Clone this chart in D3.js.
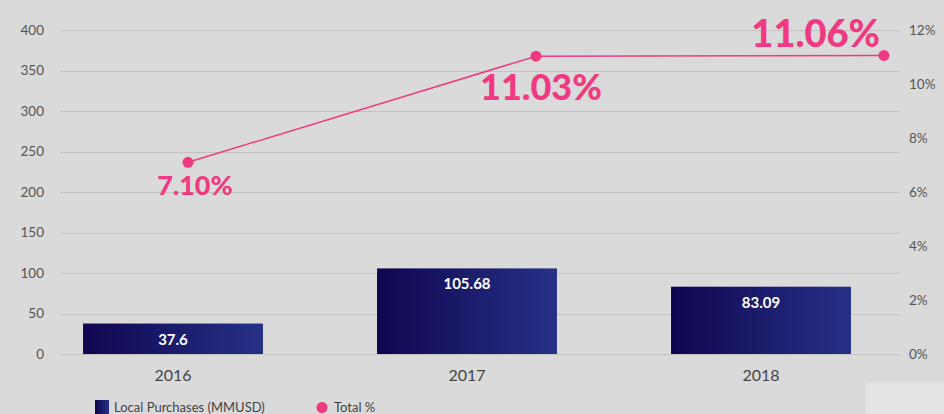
<!DOCTYPE html>
<html>
<head>
<meta charset="utf-8">
<script src="https://cdn.jsdelivr.net/npm/d3@7/dist/d3.min.js"></script>
<style>
  html, body { margin: 0; padding: 0; background: #dadada; }
  svg { display: block; }
</style>
</head>
<body>
<svg id="chart" width="944" height="414"></svg>
<script>
// Local purchases per year (MMUSD) and share of total purchases (%)
const years = ["2016", "2017", "2018"];
const purchases = [37.6, 105.68, 83.09];
const totalPct = [7.10, 11.03, 11.06];
const leftTicks = [0, 50, 100, 150, 200, 250, 300, 350, 400];
const rightTicks = [0, 2, 4, 6, 8, 10, 12];

const W = 944, H = 414;
const svg = d3.select("#chart");
const pink = "#ef3a82";

svg.append("rect").attr("width", W).attr("height", H).attr("fill", "#dadada");
svg.append("rect").attr("x", 866).attr("y", 382).attr("width", 78).attr("height", 32).attr("fill", "#e3e3e3");

const plot = { left: 60, right: 899, top: 30, bottom: 354 };

const x = d3.scaleBand().domain(years).range([26, 908]).paddingInner(0.388).paddingOuter(0.194);
const xLine = d3.scalePoint().domain(years).range([188, 884]);
const yL = d3.scaleLinear().domain([0, 400]).range([plot.bottom, plot.top]);
const yR = d3.scaleLinear().domain([0, 12]).range([plot.bottom, plot.top]);

// gridlines
svg.append("g").selectAll("line").data(leftTicks).join("line")
  .attr("x1", plot.left).attr("x2", plot.right)
  .attr("y1", d => Math.round(yL(d)) + 0.5).attr("y2", d => Math.round(yL(d)) + 0.5)
  .attr("stroke", "#c2c2c2").attr("stroke-width", 1);

// left axis
const axL = svg.append("g").attr("transform", `translate(${plot.left},0)`)
  .call(d3.axisLeft(yL).tickValues(leftTicks).tickSize(0).tickPadding(16));
axL.select(".domain").remove();
axL.selectAll("text").attr("font-family", "Lato, sans-serif").attr("font-size", 13.5).attr("fill", "#555");

// right axis
const axR = svg.append("g").attr("transform", `translate(${plot.right},0)`)
  .call(d3.axisRight(yR).tickValues(rightTicks).tickFormat(d => d + "%").tickSize(0).tickPadding(10));
axR.select(".domain").remove();
axR.selectAll("text").attr("font-family", "Lato, sans-serif").attr("font-size", 13.5).attr("fill", "#555");

// bar gradient
const defs = svg.append("defs");
const grad = defs.append("linearGradient").attr("id", "barGrad").attr("x1", "0%").attr("x2", "100%");
grad.append("stop").attr("offset", "0%").attr("stop-color", "#100650");
grad.append("stop").attr("offset", "100%").attr("stop-color", "#263186");

const data = years.map((yr, i) => ({ yr, v: purchases[i], p: totalPct[i] }));

svg.append("g").selectAll("rect").data(data).join("rect")
  .attr("x", d => x(d.yr)).attr("width", x.bandwidth())
  .attr("y", d => yL(d.v)).attr("height", d => yL(0) - yL(d.v))
  .attr("fill", "url(#barGrad)");

svg.append("g").selectAll("text").data(data).join("text")
  .attr("x", d => x(d.yr) + x.bandwidth() / 2)
  .attr("y", d => yL(d.v) + 21)
  .attr("text-anchor", "middle")
  .attr("font-family", "Lato, sans-serif").attr("font-weight", 700).attr("font-size", 15)
  .attr("fill", "#fff").text(d => d.v);

// year labels
svg.append("g").selectAll("text").data(data).join("text")
  .attr("x", d => x(d.yr) + x.bandwidth() / 2).attr("y", 381)
  .attr("text-anchor", "middle")
  .attr("font-family", "Lato, sans-serif").attr("font-size", 16).attr("fill", "#444")
  .text(d => d.yr);

// percentage line
const line = d3.line().x(d => xLine(d.yr)).y(d => yR(d.p));
svg.append("path").datum(data).attr("d", line)
  .attr("fill", "none").attr("stroke", pink).attr("stroke-width", 1.5);
svg.append("g").selectAll("circle").data(data).join("circle")
  .attr("cx", d => xLine(d.yr)).attr("cy", d => yR(d.p)).attr("r", 5.5).attr("fill", pink);

// percentage labels
const labelStyle = [
  { dx: 7, dy: 33, size: 27, anchor: "middle" },
  { dx: 5, dy: 44, size: 36, anchor: "middle" },
  { dx: -4, dy: -8, size: 38, anchor: "end" }
];
svg.append("g").selectAll("text").data(data).join("text")
  .attr("x", (d, i) => xLine(d.yr) + labelStyle[i].dx)
  .attr("y", (d, i) => yR(d.p) + labelStyle[i].dy)
  .attr("text-anchor", (d, i) => labelStyle[i].anchor)
  .attr("font-family", "Lato, sans-serif").attr("font-weight", 900)
  .attr("font-size", (d, i) => labelStyle[i].size)
  .attr("fill", pink)
  .text(d => d.p.toFixed(2) + "%");

// legend
const lg = svg.append("g");
const lgGrad = defs.append("linearGradient").attr("id", "lgGrad").attr("x1", "0%").attr("x2", "100%");
lgGrad.append("stop").attr("offset", "0%").attr("stop-color", "#100650");
lgGrad.append("stop").attr("offset", "100%").attr("stop-color", "#263186");
lg.append("rect").attr("x", 95).attr("y", 400).attr("width", 14).attr("height", 14).attr("fill", "url(#lgGrad)");
lg.append("text").attr("x", 114).attr("y", 412)
  .attr("font-family", "Lato, sans-serif").attr("font-size", 13).attr("fill", "#444")
  .text("Local Purchases (MMUSD)");
lg.append("circle").attr("cx", 322).attr("cy", 407.5).attr("r", 5.5).attr("fill", pink);
lg.append("text").attr("x", 334).attr("y", 412)
  .attr("font-family", "Lato, sans-serif").attr("font-size", 13).attr("fill", "#444")
  .text("Total %");
</script>
</body>
</html>
